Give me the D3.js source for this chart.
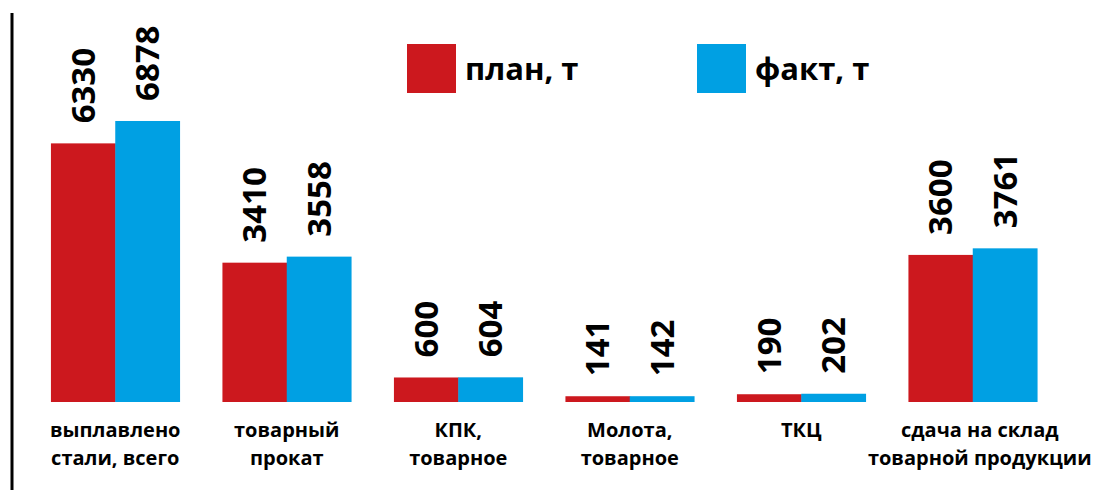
<!DOCTYPE html>
<html>
<head>
<meta charset="utf-8">
<script src="https://cdn.jsdelivr.net/npm/d3@7"></script>
<style>
  body { margin: 0; background: #fff; }
  svg { display: block; }
</style>
</head>
<body>
<div id="chart"></div>
<script>
// categories and values
const categories = [
  ["выплавлено", "стали, всего"],
  ["товарный", "прокат"],
  ["КПК,", "товарное"],
  ["Молота,", "товарное"],
  ["ТКЦ"],
  ["сдача на склад", "товарной продукции"]
];
const plan = [6330, 3410, 600, 141, 190, 3600];
const fact = [6878, 3558, 604, 142, 202, 3761];
const seriesNames = ["план, т", "факт, т"];
const colors = ["#CC181E", "#00A0E3"];

const W = 1095, H = 490;
const baseY = 402;
const font = "'Open Sans', 'Noto Sans', sans-serif";

const svg = d3.select("#chart").append("svg")
  .attr("width", W)
  .attr("height", H);

// left axis line
svg.append("line")
  .attr("x1", 12).attr("x2", 12)
  .attr("y1", 13).attr("y2", H)
  .attr("stroke", "#000")
  .attr("stroke-width", 3);

const keys = categories.map((c, i) => "c" + i);

let x0 = d3.scaleBand()
  .domain(keys)
  .range([29.5, 1058.5])
  .paddingInner(0.25)
  .paddingOuter(0.125);

let x1 = d3.scaleBand()
  .domain([0, 1])
  .range([0, x0.bandwidth()]);

let y = d3.scaleLinear()
  .domain([0, 7000])
  .range([baseY, baseY - 286]);

const rows = keys.map((k, i) => ({ key: k, values: [plan[i], fact[i]] }));

const groups = svg.selectAll(".grp")
  .data(rows)
  .enter().append("g")
  .attr("class", "grp")
  .attr("transform", d => "translate(" + x0(d.key) + ",0)");

groups.selectAll("rect")
  .data(d => d.values.map((v, s) => ({ v: v, s: s })))
  .enter().append("rect")
  .attr("x", d => x1(d.s))
  .attr("y", d => y(d.v))
  .attr("width", x1.bandwidth() + 0.5)
  .attr("height", d => y(0) - y(d.v))
  .attr("fill", d => colors[d.s]);

// value labels, rotated
groups.selectAll("text.val")
  .data(d => d.values.map((v, s) => ({ v: v, s: s })))
  .enter().append("text")
  .attr("class", "val")
  .attr("transform", d => "translate(" + (x1(d.s) + x1.bandwidth() / 2) + "," + (y(d.v) - 20) + ") rotate(-90)")
  .attr("dy", "0.36em")
  .attr("text-anchor", "start")
  .attr("font-family", font)
  .attr("font-weight", "bold")
  .attr("font-size", "33px")
  .attr("fill", "#000")
  .text(d => d.v);

// category labels
groups.each(function(d, i) {
  const t = d3.select(this).append("text")
    .attr("text-anchor", "middle")
    .attr("font-family", font)
    .attr("font-weight", "bold")
    .attr("font-size", "20px")
    .attr("fill", "#000");
  categories[i].forEach((line, j) => {
    t.append("tspan")
      .attr("x", x0.bandwidth() / 2 + (i == 5 ? 7 : 0))
      .attr("y", 437 + j * 28)
      .text(line);
  });
});

// legend
const legX = [407, 697];
seriesNames.forEach((name, i) => {
  svg.append("rect")
    .attr("x", legX[i])
    .attr("y", 44)
    .attr("width", 49)
    .attr("height", 49)
    .attr("fill", colors[i]);
  svg.append("text")
    .attr("x", legX[i] + 58)
    .attr("y", 80)
    .attr("font-family", font)
    .attr("font-weight", "bold")
    .attr("font-size", "31px")
    .attr("fill", "#000")
    .text(name);
});
</script>
</body>
</html>
